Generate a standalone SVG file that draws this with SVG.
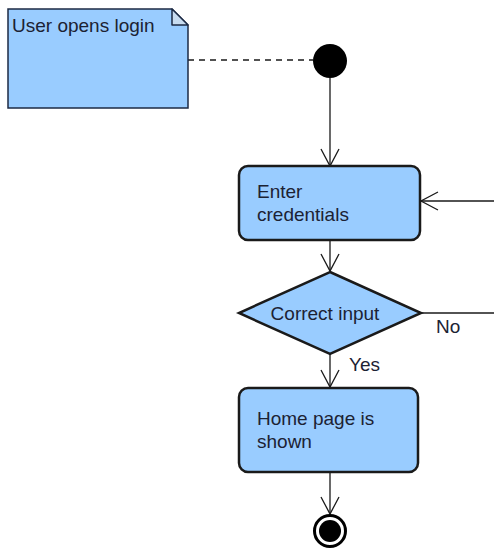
<svg xmlns="http://www.w3.org/2000/svg" width="494" height="548" viewBox="0 0 494 548">
  <style>
    .node { fill: #99ccff; stroke: #1a1a1a; stroke-width: 2.5; }
    .note { fill: #99ccff; stroke: #1c2a44; stroke-width: 1.5; }
    .fold { fill: #c8dcf0; stroke: #1c2a44; stroke-width: 1.5; stroke-linejoin: round; }
    .edge { fill: none; stroke: #1a1a1a; stroke-width: 1.3; }
    .dash { fill: none; stroke: #1a1a1a; stroke-width: 1.3; stroke-dasharray: 6 5; }
    .label { font-family: "Liberation Sans", Arial, sans-serif; font-size: 19px; fill: #1c2233; }
  </style>
  <defs>
    <marker id="open" viewBox="0 0 20 20" refX="18" refY="10" markerWidth="20" markerHeight="20" markerUnits="userSpaceOnUse" orient="auto">
      <path d="M1,1 L18,10 L1,19" fill="none" stroke="#1a1a1a" stroke-width="1.3"/>
    </marker>
  </defs>

  <rect width="494" height="548" fill="#ffffff"/>

  <g id="connectors">
    <path class="dash" d="M188,60 H313"/>
    <path class="edge" d="M330,78 V166" marker-end="url(#open)"/>
    <path class="edge" d="M494,201 H421" marker-end="url(#open)"/>
    <path class="edge" d="M330,241 V271" marker-end="url(#open)"/>
    <path class="edge" d="M421,313 H494"/>
    <text class="label" x="436" y="333">No</text>
    <path class="edge" d="M330,354 V387" marker-end="url(#open)"/>
    <text class="label" x="349" y="371">Yes</text>
    <path class="edge" d="M330,473 V514" marker-end="url(#open)"/>
  </g>

  <g id="note">
    <path class="note" d="M8,9 H172 L188,25 V108 H8 Z"/>
    <path class="fold" d="M172,9 V25 H188 Z"/>
    <text class="label" x="12" y="32">User opens login</text>
  </g>

  <g id="start">
    <circle cx="330" cy="61" r="17" fill="#000000"/>
  </g>

  <g id="enter-credentials">
    <rect class="node" x="239" y="166" width="181" height="74" rx="9"/>
    <text class="label" x="257" y="198">Enter</text>
    <text class="label" x="257" y="221">credentials</text>
  </g>

  <g id="correct-input">
    <path class="node" d="M330,272 L421,313 L330,354 L239,313 Z"/>
    <text class="label" x="325" y="320" text-anchor="middle">Correct input</text>
  </g>

  <g id="home-page">
    <rect class="node" x="239" y="388" width="179" height="84" rx="9"/>
    <text class="label" x="257" y="425">Home page is</text>
    <text class="label" x="257" y="448">shown</text>
  </g>

  <g id="end">
    <circle cx="330" cy="531" r="15.5" fill="#ffffff" stroke="#000000" stroke-width="3"/>
    <circle cx="330" cy="531" r="11" fill="#000000"/>
  </g>
</svg>
